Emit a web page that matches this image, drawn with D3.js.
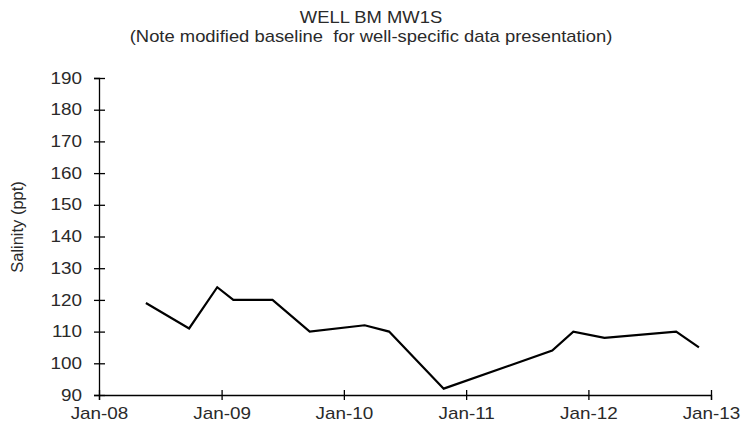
<!DOCTYPE html>
<html>
<head>
<meta charset="utf-8">
<script src="https://cdn.jsdelivr.net/npm/d3@7"></script>
<style>
  html, body { margin: 0; padding: 0; background: #fff; }
  svg { display: block; font-family: "Liberation Sans", Arial, sans-serif; }
  text { white-space: pre; }
</style>
</head>
<body>
<svg id="chart" width="743" height="430"></svg>
<script>
// Sampling dates and salinity readings for well BM MW1S
const sampleDates = [
  "2008-05-20", "2008-09-26", "2008-12-19", "2009-02-05", "2009-06-02",
  "2009-09-21", "2010-03-04", "2010-05-16", "2010-10-26", "2011-09-15",
  "2011-11-17", "2012-02-18", "2012-09-19", "2012-11-26"
];
const salinity = [119, 111, 124, 120, 120, 110, 112, 110, 92, 104, 110, 108, 110, 105];

const yTicks = [90, 100, 110, 120, 130, 140, 150, 160, 170, 180, 190];
const xTickDates = ["2008-01-01", "2009-01-01", "2010-01-01", "2011-01-01", "2012-01-01", "2013-01-01"];

const titleLines = ["WELL BM MW1S", "(Note modified baseline  for well-specific data presentation)"];
const yAxisTitle = "Salinity (ppt)";

const parse = d3.utcParse("%Y-%m-%d");
const fmt = d3.utcFormat("%b-%y");

const svg = d3.select("#chart");
const margin = { left: 99, right: 32, top: 78, bottom: 35 };
const W = 743, H = 430;

// Text is drawn slightly wide, like the original export's typeface
const stretch = 1.18;
const titleStretch = 1.15;
const textColor = "#2a2a2a";
const fontFamily = "'Liberation Sans', Arial, sans-serif";

const x = d3.scaleUtc()
  .domain([parse("2008-01-01"), parse("2013-01-01")])
  .range([margin.left, W - margin.right]);
const y = d3.scaleLinear()
  .domain([90, 190])
  .range([H - margin.bottom, margin.top]);

// Title
svg.selectAll("text.title")
  .data(titleLines)
  .join("text")
  .attr("class", "title")
  .attr("transform", (d, i) => `translate(371,${[23, 42][i]}) scale(${titleStretch},1)`)
  .attr("text-anchor", "middle")
  .attr("font-size", 16)
  .attr("fill", textColor)
  .text(d => d);

// Y axis
const yAxis = svg.append("g")
  .attr("transform", `translate(${margin.left},0)`)
  .call(d3.axisLeft(y).tickValues(yTicks).tickSize(5).tickPadding(12));
yAxis.select(".domain").attr("stroke", "#000").attr("stroke-width", 1.3);
yAxis.selectAll(".tick line").attr("x1", -5).attr("x2", 6).attr("stroke", "#000").attr("stroke-width", 1.3);
yAxis.selectAll(".tick text")
  .attr("x", -17 / stretch)
  .attr("transform", `scale(${stretch},1)`)
  .attr("font-size", 16).attr("fill", textColor).attr("font-family", fontFamily);

// X axis
const xAxis = svg.append("g")
  .attr("transform", `translate(0,${H - margin.bottom})`)
  .call(d3.axisBottom(x).tickValues(xTickDates.map(parse)).tickFormat(fmt).tickSize(5).tickPadding(8));
xAxis.select(".domain").attr("stroke", "#000").attr("stroke-width", 1.3);
xAxis.selectAll(".tick line").attr("y1", -5).attr("y2", 5).attr("stroke", "#000").attr("stroke-width", 1.3);
xAxis.selectAll(".tick text")
  .attr("transform", `scale(${stretch},1)`)
  .attr("font-size", 16).attr("fill", textColor).attr("font-family", fontFamily);

// Y axis title
svg.append("text")
  .attr("transform", `translate(23,227) rotate(-90) scale(1.03,1)`)
  .attr("text-anchor", "middle")
  .attr("font-size", 16)
  .attr("fill", textColor)
  .text(yAxisTitle);

// Salinity line
const points = sampleDates.map((d, i) => ({ date: parse(d), value: salinity[i] }));
const line = d3.line().x(d => x(d.date)).y(d => y(d.value));
svg.append("path")
  .datum(points)
  .attr("fill", "none")
  .attr("stroke", "#000")
  .attr("stroke-width", 2.2)
  .attr("stroke-linejoin", "miter")
  .attr("d", line);
</script>
</body>
</html>
